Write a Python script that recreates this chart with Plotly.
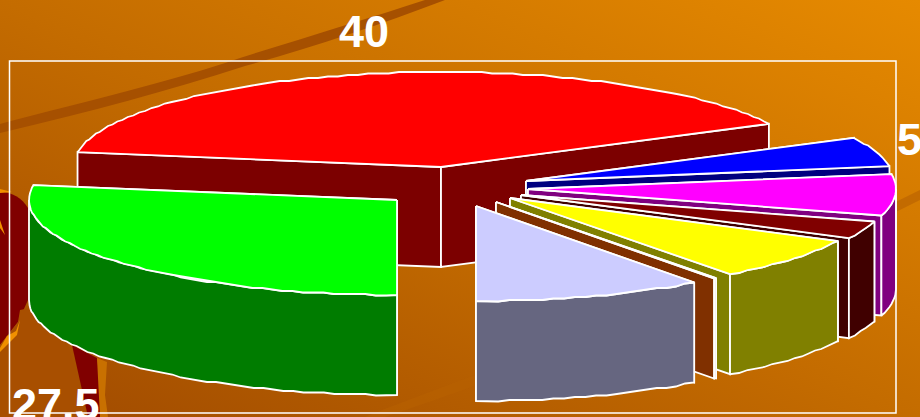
import base64
import numpy as np
import plotly.graph_objects as go

# ---- data (percent shares, clockwise from the start angle) ----
names = ["Red", "Blue", "Magenta", "Maroon", "Yellow", "Orange", "Lavender", "Green"]
values = [40, 5, 7, 3, 7.3, 0.1, 10.1, 27.5]
top_colors = ["#ff0000", "#0000ff", "#ff00ff", "#800000", "#ffff00", "#ff6000", "#ccccff", "#00ff00"]
side_colors = ["#7c0000", "#000080", "#800080", "#400000", "#808000", "#803000", "#666680", "#007c00"]
labels = ["40", "5", "27.5"]

# ---- 3D pie geometry (page pixels) ----
RX, RY, DEPTH = 368, 95, 100
FIRST_SLICE_END = 63.0  # degrees clockwise from 12 o'clock where the red slice ends
SNAP = 1.5              # the reference's rims are coarse, slightly stepped polylines
apex_x = [441, 526, 528, 521, 510, 496, 476, 397]
apex_y = [167, 181, 189, 195, 198, 202, 206, 200]

# slice boundaries derived from the values
shares = np.array(values) * 3.6
starts = [FIRST_SLICE_END - shares[0]] + [FIRST_SLICE_END + sum(shares[1:i]) for i in range(1, len(values))]
ends = [a + b for a, b in zip(starts, shares)]


def rim(cx, cy, a0, a1, dz=0, n=None):
    if n is None:
        n = max(2, int(abs(a1 - a0) / 1.6))
    t = np.radians(np.linspace(a0, a1, n))
    x = cx + RX * np.sin(t)
    y = cy - RY * np.cos(t)
    if n > 2:
        y[1:-1] = np.round(y[1:-1] / SNAP) * SNAP
    return x, y + dz


fig = go.Figure()


def face(x, y, color, name):
    fig.add_trace(go.Scatter(
        x=np.r_[x, x[0]], y=np.r_[y, y[0]], mode="lines", fill="toself", fillcolor=color,
        line=dict(color="white", width=1.8), name=name, showlegend=False, hoverinfo="name",
    ))


def front_arc(a0, a1):
    """part of [a0,a1] on the viewer-facing half of the rim (90..270 mod 360)."""
    for k in (-360, 0, 360):
        lo, hi = max(a0, 90 + k), min(a1, 270 + k)
        if hi > lo:
            return lo, hi
    return None


for i, name in enumerate(names):
    cx, cy = apex_x[i], apex_y[i]
    a0, a1 = starts[i], ends[i]
    # radial walls
    for a in (a0, a1):
        t = np.radians(a)
        px, py = cx + RX * np.sin(t), cy - RY * np.cos(t)
        face(np.array([cx, px, px, cx]), np.array([cy, py, py + DEPTH, cy + DEPTH]), side_colors[i], name)
    # outer rim band
    arc = front_arc(a0, a1)
    if arc:
        ux, uy = rim(cx, cy, *arc)
        lx, ly = rim(cx, cy, *arc, dz=DEPTH)
        face(np.r_[ux, lx[::-1]], np.r_[uy, ly[::-1]], side_colors[i], name)
    # top
    tx, ty = rim(cx, cy, a0, a1)
    face(np.r_[cx, tx], np.r_[cy, ty], top_colors[i], name)

bg = """<svg xmlns='http://www.w3.org/2000/svg' width='920' height='417' viewBox='0 0 920 417'>
<defs><linearGradient id='g' x1='0' y1='1' x2='1' y2='0'>
<stop offset='0' stop-color='#a04a00'/><stop offset='0.5' stop-color='#c46c00'/><stop offset='1' stop-color='#e68a00'/>
</linearGradient></defs>
<rect width='920' height='417' fill='url(#g)'/>
<path d='M0 124 C90 100 170 82 240 58 C310 36 370 18 425 0 L445 0 C380 25 310 48 245 66 C170 90 90 112 0 133 Z' fill='#a65000'/>
<path d='M365 417 C470 375 720 290 920 190 L920 200 C720 300 480 385 385 417 Z' fill='#b86000' opacity='0.6'/>
<path d='M0 192 C12 192 22 198 28 208 L28 300 L18 322 L0 345 Z' fill='#800000'/>
<path d='M0 345 L18 322 L20 310 L55 303 L90 417 L0 417 Z' fill='#a84f00'/>
<path d='M0 189 L12 192 L0 193 Z' fill='#f09000'/>
<path d='M0 220 L5 235 L0 228 Z' fill='#f09000'/>
<path d='M0 348 L7 336 L16 331 L20 320 L17 335 L0 352 Z' fill='#f09000'/>
<path d='M72 345 L97 358 L105 417 L88 417 Z' fill='#800000'/>
<path d='M97 358 L107 362 L105 395 L108 417 L100 417 Z' fill='#c87000'/>
</svg>"""

fig.update_layout(
    width=920, height=417, autosize=False,
    margin=dict(l=0, r=0, t=0, b=0),
    paper_bgcolor="#c46c00", plot_bgcolor="rgba(0,0,0,0)",
    showlegend=False,
    xaxis=dict(range=[0, 920], visible=False, fixedrange=True),
    yaxis=dict(range=[417, 0], visible=False, fixedrange=True),
    images=[dict(source="data:image/svg+xml;base64," + base64.b64encode(bg.encode()).decode(),
                 xref="paper", yref="paper", x=0, y=1, sizex=1, sizey=1,
                 xanchor="left", yanchor="top", sizing="stretch", layer="below")],
    shapes=[dict(type="rect", x0=9.5, y0=61, x1=896, y1=413, line=dict(color="white", width=1.5),
                 layer="above")],
)

for txt, x, y in zip(labels, [364, 909, 56], [31, 139, 404]):
    fig.add_annotation(x=x, y=y, text=f"<b>{txt}</b>", showarrow=False, xanchor="center", yanchor="middle",
                       font=dict(family="Liberation Sans", size=45, color="white"))

fig.write_html("out.html", config={"displayModeBar": False},
               post_script="document.body.style.margin='0';document.documentElement.style.overflow='hidden';")
